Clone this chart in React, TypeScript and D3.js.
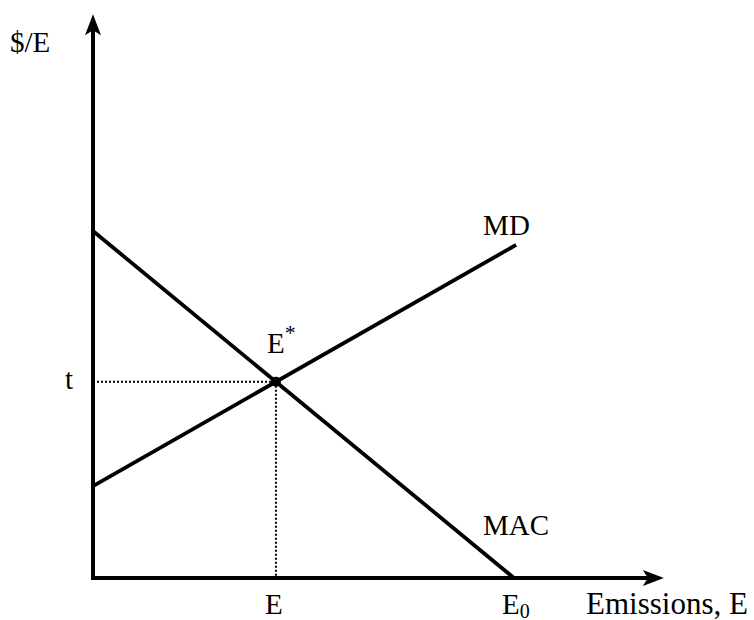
import React from 'react';
import * as d3 from 'd3';

// curves in abstract units (emissions on x, $/E on y)
const macCurve: [number, number][] = [[0, 10], [10, 0]];
const mdCurve: [number, number][] = [[0, 2.65], [10.05, 9.6]];
const xAxisMax = 13.56;
const yAxisMax = 16.25;
const E0 = 10;

const font = '"Liberation Serif", "Times New Roman", serif';

// where MAC and MD cross
const intersect = (a: [number, number][], b: [number, number][]) => {
    const s1 = (a[1][1] - a[0][1]) / (a[1][0] - a[0][0]);
    const s2 = (b[1][1] - b[0][1]) / (b[1][0] - b[0][0]);
    const c1 = a[0][1] - s1 * a[0][0];
    const c2 = b[0][1] - s2 * b[0][0];
    const xs = (c2 - c1) / (s1 - s2);
    return [xs, c1 + s1 * xs];
};

const App = () => {
    const width = 754;
    const height = 620;
    const x = d3.scaleLinear().domain([0, 10]).range([93, 514]);
    const y = d3.scaleLinear().domain([0, 10]).range([578, 231]);
    const line = d3.line<[number, number]>().x(d => x(d[0])).y(d => y(d[1]));
    const [eStar, tStar] = intersect(macCurve, mdCurve);

    const x0 = x(0), y0 = y(0);
    const xEnd = x(xAxisMax), yEnd = y(yAxisMax);

    return (
        <svg width={width} height={height} style={{ position: 'absolute', left: 0, top: 0, background: '#fff' }}
            fontFamily={font} fontSize={29} fill="#000">
            {/* dotted guides */}
            <line x1={x0} y1={y(tStar)} x2={x(eStar)} y2={y(tStar)} stroke="#000" strokeWidth={2} strokeDasharray="2,2" />
            <line x1={x(eStar)} y1={y(tStar)} x2={x(eStar)} y2={y0} stroke="#000" strokeWidth={2} strokeDasharray="2,2" />

            {/* curves */}
            <path d={line(macCurve) || ''} fill="none" stroke="#000" strokeWidth={3.8} />
            <path d={line(mdCurve) || ''} fill="none" stroke="#000" strokeWidth={3.8} />
            <circle cx={x(eStar)} cy={y(tStar)} r={5} fill="#000" />

            {/* axes */}
            <line x1={x0} y1={y0} x2={x0} y2={yEnd + 12} stroke="#000" strokeWidth={4} />
            <line x1={x0 - 2} y1={y0} x2={xEnd - 12} y2={y0} stroke="#000" strokeWidth={4} />
            <path d={`M${x0},${yEnd} L${x0 - 8},${yEnd + 21} L${x0},${yEnd + 16} L${x0 + 8},${yEnd + 21} Z`} fill="#000" />
            <path d={`M${xEnd},${y0} L${xEnd - 21},${y0 - 8} L${xEnd - 16},${y0} L${xEnd - 21},${y0 + 8} Z`} fill="#000" />

            {/* labels */}
            <text x={10} y={52}>$/E</text>
            <text x={x0 - 28} y={y(tStar) + 7}>t</text>
            <text x={x(eStar) - 9} y={y(tStar) - 29}>E<tspan fontSize={22} dy={-13}>*</tspan></text>
            <text x={x(mdCurve[1][0]) - 33} y={y(mdCurve[1][1]) - 10}>MD</text>
            <text x={x(E0) - 31} y={y0 - 43}>MAC</text>
            <text x={x(eStar) - 2} y={614} textAnchor="middle">E</text>
            <text x={x(E0) - 12} y={614}>E<tspan fontSize={20} dy={4}>0</tspan></text>
            <text x={586} y={614} fontSize={31}>Emissions, E</text>
        </svg>
    );
};

export default App;
